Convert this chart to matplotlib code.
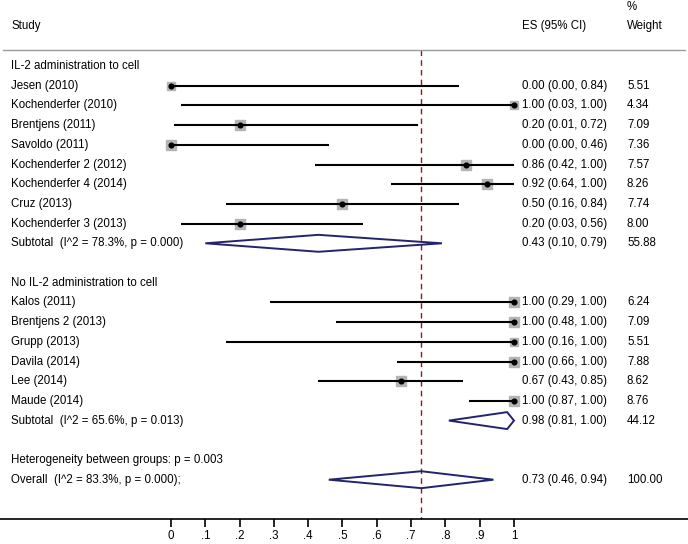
import numpy as np
import matplotlib
matplotlib.use("Agg")
import matplotlib.pyplot as plt
from matplotlib.patches import Polygon

plt.rcParams['font.family'] = ['Liberation Sans', 'DejaVu Sans']

# group 1
g1_title = "IL-2 administration to cell"
g1_studies = ["Jesen (2010)", "Kochenderfer (2010)", "Brentjens (2011)", "Savoldo (2011)",
              "Kochenderfer 2 (2012)", "Kochenderfer 4 (2014)", "Cruz (2013)", "Kochenderfer 3 (2013)"]
g1_es = [0.00, 1.00, 0.20, 0.00, 0.86, 0.92, 0.50, 0.20]
g1_lo = [0.00, 0.03, 0.01, 0.00, 0.42, 0.64, 0.16, 0.03]
g1_hi = [0.84, 1.00, 0.72, 0.46, 1.00, 1.00, 0.84, 0.56]
g1_w = [5.51, 4.34, 7.09, 7.36, 7.57, 8.26, 7.74, 8.00]
g1_sub = (0.43, 0.10, 0.79, 55.88)
g1_sub_label = "Subtotal  (I^2 = 78.3%, p = 0.000)"

# group 2
g2_title = "No IL-2 administration to cell"
g2_studies = ["Kalos (2011)", "Brentjens 2 (2013)", "Grupp (2013)", "Davila (2014)",
              "Lee (2014)", "Maude (2014)"]
g2_es = [1.00, 1.00, 1.00, 1.00, 0.67, 1.00]
g2_lo = [0.29, 0.48, 0.16, 0.66, 0.43, 0.87]
g2_hi = [1.00, 1.00, 1.00, 1.00, 0.85, 1.00]
g2_w = [6.24, 7.09, 5.51, 7.88, 8.62, 8.76]
g2_sub = (0.98, 0.81, 1.00, 44.12)
g2_sub_label = "Subtotal  (I^2 = 65.6%, p = 0.013)"

het_label = "Heterogeneity between groups: p = 0.003"
overall = (0.73, 0.46, 0.94, 100.00)
overall_label = "Overall  (I^2 = 83.3%, p = 0.000);"

xticks = [0, .1, .2, .3, .4, .5, .6, .7, .8, .9, 1]
xticklabels = ["0", ".1", ".2", ".3", ".4", ".5", ".6", ".7", ".8", ".9", "1"]

fig = plt.figure(figsize=(6.88, 5.44), dpi=100)
ax = fig.add_axes([0, 0, 1, 1])
ax.set_xlim(-171 / 343, (688 - 171) / 343)
ax.set_ylim((544 - 66) / 19.7, -66 / 19.7)

fs = 8.3
x_lab = -160 / 343
x_es = (522 - 171) / 343
x_w = (627 - 171) / 343
navy = "#23236e"

def ci_text(e, l, h):
    return "%.2f (%.2f, %.2f)" % (e, l, h)

def draw_study(y, name, e, l, h, w):
    ax.text(x_lab, y, name, fontsize=fs, va="center", ha="left")
    ax.plot([l, h], [y, y], color="black", lw=1.5, solid_capstyle="butt", zorder=3)
    ax.plot(e, y, marker="s", ms=2.6 * np.sqrt(w), color="#b4b4b4", mec="#b4b4b4", zorder=2)
    ax.plot(e, y, marker="o", ms=3.4, color="black", zorder=4)
    ax.text(x_es, y, ci_text(e, l, h), fontsize=fs, va="center", ha="left")
    ax.text(x_w, y, "%.2f" % w, fontsize=fs, va="center", ha="left")

def draw_diamond(y, label, summ):
    e, l, h, w = summ
    d = 0.43
    ax.add_patch(Polygon([[l, y], [e, y - d], [h, y], [e, y + d]], closed=True,
                         fill=False, edgecolor=navy, lw=1.4, zorder=3))
    ax.text(x_lab, y, label, fontsize=fs, va="center", ha="left")
    ax.text(x_es, y, ci_text(e, l, h), fontsize=fs, va="center", ha="left")
    ax.text(x_w, y, "%.2f" % w, fontsize=fs, va="center", ha="left")

# header
ax.text(x_lab, -2.03, "Study", fontsize=fs, va="center")
ax.text(x_es, -2.03, "ES (95% CI)", fontsize=fs, va="center")
ax.text(x_w, -2.03, "Weight", fontsize=fs, va="center")
ax.text(x_w, -3.0, "%", fontsize=fs, va="center")
ax.axhline(-0.81, xmin=0.005, xmax=0.995, color="#9a9a9a", lw=1)

row = 0
ax.text(x_lab, row, g1_title, fontsize=fs, va="center")
for i in range(len(g1_studies)):
    row += 1
    draw_study(row, g1_studies[i], g1_es[i], g1_lo[i], g1_hi[i], g1_w[i])
row += 1
draw_diamond(row, g1_sub_label, g1_sub)

row += 2
ax.text(x_lab, row, g2_title, fontsize=fs, va="center")
for i in range(len(g2_studies)):
    row += 1
    draw_study(row, g2_studies[i], g2_es[i], g2_lo[i], g2_hi[i], g2_w[i])
row += 1
draw_diamond(row, g2_sub_label, g2_sub)

row += 2
ax.text(x_lab, row, het_label, fontsize=fs, va="center")
row += 1
draw_diamond(row, overall_label, overall)

axis_y = row + 2.0

# overall effect dashed line
ax.plot([overall[0], overall[0]], [-0.81, axis_y], color="#8b1c1c", lw=1, ls=(0, (4, 3)), zorder=1)

# x axis
ax.spines[["top", "right", "left"]].set_visible(False)
ax.spines["bottom"].set_position(("data", axis_y))
ax.spines["bottom"].set_linewidth(1.2)
ax.set_yticks([])
ax.set_xticks(xticks)
ax.set_xticklabels(xticklabels, fontsize=fs)
ax.tick_params(axis="x", direction="out", length=6, width=1.2, pad=2)
ax.patch.set_alpha(0)

fig.savefig("out.png", dpi=100)
